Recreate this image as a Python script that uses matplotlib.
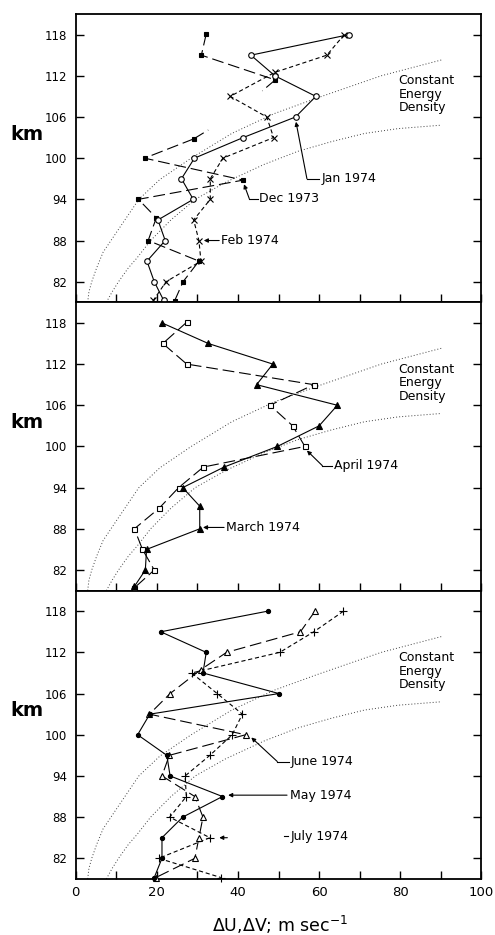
import matplotlib.pyplot as plt
import numpy as np
from matplotlib.transforms import blended_transform_factory

plt.rcParams['font.family'] = ['DejaVu Sans']
plt.rcParams['lines.scale_dashes'] = False

nan = np.nan

# constant energy density curves
ced1_x = [3.0, 3.3, 4.0, 5.2, 6.8, 10.1, 15.6, 20.8, 28.5, 38.5, 49.0, 59.2, 75.3, 90.1]
ced1_km = [79, 80.5, 82, 84, 86.3, 89.2, 94, 96.9, 100, 103.6, 106.5, 108.7, 112, 114.3]
ced2_x = [7.6, 9.0, 10.6, 13.0, 15.2, 18.5, 23.5, 29.5, 37.0, 46.5, 54.8, 63.0, 71.2, 79.4, 90.0]
ced2_km = [79, 80.5, 82, 84, 85.5, 88, 91, 94, 96.5, 99.1, 101, 102.4, 103.6, 104.3, 104.8]

# top panel
jan_x = [67.4, 43.2, 49.1, 59.2, 54.2, 41.3, 29.3, 26.1, 29.0, 20.3, 22.1, 17.6, 19.4, 21.7]
jan_km = [118, 115, 112, 109, 106, 103, 100, 97, 94, 91, 88, 85, 82, 79.3]
feb_x = [66.2, 61.9, 49.1, 38.1, 47.1, 48.8, 36.3, 33.2, 33.2, 29.1, 30.4, 30.9, 22.3, 19.2]
feb_km = [118, 115, 112.5, 109, 106, 103, 100, 97, 94, 91, 88, 85, 82, 79.3]
dec_x = [32.2, 31.0, 49.2, nan, nan, 29.1, 17.0, 41.3, 15.5, 19.9, 17.9, 30.4, 26.5, 24.4]
dec_km = [118.1, 115, 111.4, 109, 106, 102.8, 100, 96.8, 94, 91.3, 88, 85, 82, 79.2]
# short broken ends of the Dec 1973 curve around the missing levels
dec_stub1_x = [49.2, 46.0]
dec_stub1_km = [111.4, 109.8]
dec_stub2_x = [29.1, 32.7]
dec_stub2_km = [102.8, 104.1]

# middle panel
mar_x = [21.3, 32.7, 48.6, 44.6, 64.5, 60.0, 49.7, 36.6, 26.4, 30.6, 30.6, 17.5, 17.2, 14.5]
mar_km = [118, 115, 112, 109, 106, 103, 100, 97, 94, 91.3, 88, 85, 82, 79.6]
apr_x = [27.4, 21.5, 27.4, 58.7, 47.9, 53.5, 56.5, 31.5, 25.4, 20.6, 14.5, 16.5, 19.4, 14.5]
apr_km = [118.1, 115, 112, 109, 106, 103, 100, 97, 94, 91, 88, 85, 82, 79.4]

# bottom panel
may_x = [47.3, 21.0, 32.2, 31.4, 50.1, 18.3, 15.3, 22.5, 23.3, 36.2, 26.4, 21.3, 21.3, 19.4]
may_km = [118, 115, 112, 109, 106, 103, 100, 97, 94, 91, 88, 85, 82, 79.2]
jun_x = [59.1, 55.4, 37.2, 30.9, 23.3, 18.2, 41.9, 23.1, 21.3, 29.4, 31.4, 30.4, 29.4, 19.8]
jun_km = [118.1, 115, 112, 109.5, 106, 103, 100, 97, 94, 91, 88, 85, 82, 79.2]
jul_x = [66.0, 58.7, 50.3, 28.6, 34.9, 41.1, 38.6, 33.1, 27.0, 27.3, 23.2, 33.1, 20.5, 35.8]
jul_km = [118, 115, 112, 109, 106, 103, 100, 97, 94, 91, 88, 85, 82, 79.2]

km_ticks = [82, 88, 94, 100, 106, 112, 118]
x_major = [0, 20, 40, 60, 80, 100]
x_minor = [10, 30, 50, 70, 90]

SOLID = '-'
LONG = (0, (8.5, 3.5))
SHORT = (0, (3.0, 2.0))
DOT = (0, (0.7, 1.5))

fig = plt.figure(figsize=(4.95, 9.35), dpi=100)
left = 75.5 / 495
width = 406 / 495
h = 288.3 / 935
axes = []
for i in range(3):
    bottom = 1 - (14 + 288.3 * (i + 1)) / 935
    axes.append(fig.add_axes([left, bottom, width, h]))


def series(ax, x, y, ls, marker, ms, filled):
    ax.plot(x, y, color='k', lw=0.8, linestyle=ls, marker=marker, ms=ms,
            mfc='k' if filled else 'white', mec='k', mew=0.8, clip_on=False, zorder=3)


def leader(ax, xs, ys, label, tx, ty):
    ax.plot(xs[1:], ys[1:], color='k', lw=0.8, zorder=2)
    ax.annotate('', xy=(xs[0], ys[0]), xytext=(xs[1], ys[1]),
                arrowprops=dict(arrowstyle='-|>', color='k', lw=0.8,
                                mutation_scale=6, shrinkA=0, shrinkB=0))
    ax.text(tx, ty, label, fontsize=9, ha='left', va='center')


for ax in axes:
    ax.plot(ced1_x, ced1_km, color='0.25', lw=0.7, linestyle=DOT)
    ax.plot(ced2_x, ced2_km, color='0.25', lw=0.7, linestyle=DOT)
    ax.set_xlim(0, 100)
    ax.set_ylim(79, 121)
    ax.set_yticks(km_ticks)
    ax.set_yticklabels([str(k) for k in km_ticks])
    ax.set_xticks(x_major)
    ax.set_xticks(x_minor, minor=True)
    ax.tick_params(axis='both', which='both', direction='in', length=6, width=1,
                   left=True, right=True, top=False, bottom=True)
    ax.tick_params(axis='y', labelsize=8.5, pad=6)
    ax.tick_params(axis='x', labelsize=9.5, pad=5)
    for s in ax.spines.values():
        s.set_linewidth(1.3)
    ax.text(79.5, 112.2, 'Constant\nEnergy\nDensity', fontsize=9, ha='left', va='top',
            linespacing=1.05)
    tr = blended_transform_factory(ax.transAxes, ax.transData)
    ax.text(-0.12, 103.5, 'km', transform=tr, fontsize=14, fontweight='bold',
            ha='center', va='center')

ax1, ax2, ax3 = axes
for ax in (ax1, ax2):
    ax.tick_params(axis='x', labelbottom=False)

# top panel
series(ax1, dec_x, dec_km, LONG, 's', 3.2, True)
ax1.plot(dec_stub1_x, dec_stub1_km, color='k', lw=0.8, linestyle=LONG)
ax1.plot(dec_stub2_x, dec_stub2_km, color='k', lw=0.8, linestyle=LONG)
series(ax1, feb_x, feb_km, SHORT, 'x', 4, False)
series(ax1, jan_x, jan_km, SOLID, 'o', 4, False)
leader(ax1, [54.3, 57.0, 60.0], [105.3, 97.0, 97.0], 'Jan 1974', 60.5, 97.0)
leader(ax1, [41.5, 42.8, 44.9], [96.2, 94.1, 94.1], 'Dec 1973', 45.3, 94.1)
leader(ax1, [31.6, 35.4], [88.0, 88.0], 'Feb 1974', 35.8, 88.0)

# middle panel
series(ax2, apr_x, apr_km, LONG, 's', 3.6, False)
series(ax2, mar_x, mar_km, SOLID, '^', 4, True)
leader(ax2, [57.0, 60.8, 63.2], [99.4, 97.2, 97.2], 'April 1974', 63.6, 97.2)
leader(ax2, [31.4, 36.6], [88.2, 88.2], 'March 1974', 37.0, 88.2)

# bottom panel
series(ax3, jul_x, jul_km, SHORT, '+', 5.5, False)
series(ax3, jun_x, jun_km, LONG, '^', 4, False)
series(ax3, may_x, may_km, SOLID, 'o', 3, True)
leader(ax3, [43.3, 49.7, 52.5], [99.6, 96.1, 96.1], 'June 1974', 52.9, 96.1)
leader(ax3, [37.6, 52.1], [91.2, 91.2], 'May 1974', 52.9, 91.2)
leader(ax3, [35.4, 37.4], [85.0, 85.0], '', 52.9, 85.2)
ax3.plot([51.4, 52.3], [85.2, 85.2], color='k', lw=0.8)
ax3.text(52.9, 85.2, 'July 1974', fontsize=9, ha='left', va='center')

ax3.set_xticklabels([str(v) for v in x_major])
fig.text(280 / 495, 1 - 925 / 935, r'ΔU,ΔV; m sec$^{-1}$', fontsize=12.5,
         ha='center', va='center')

fig.savefig('out.png', dpi=100)
